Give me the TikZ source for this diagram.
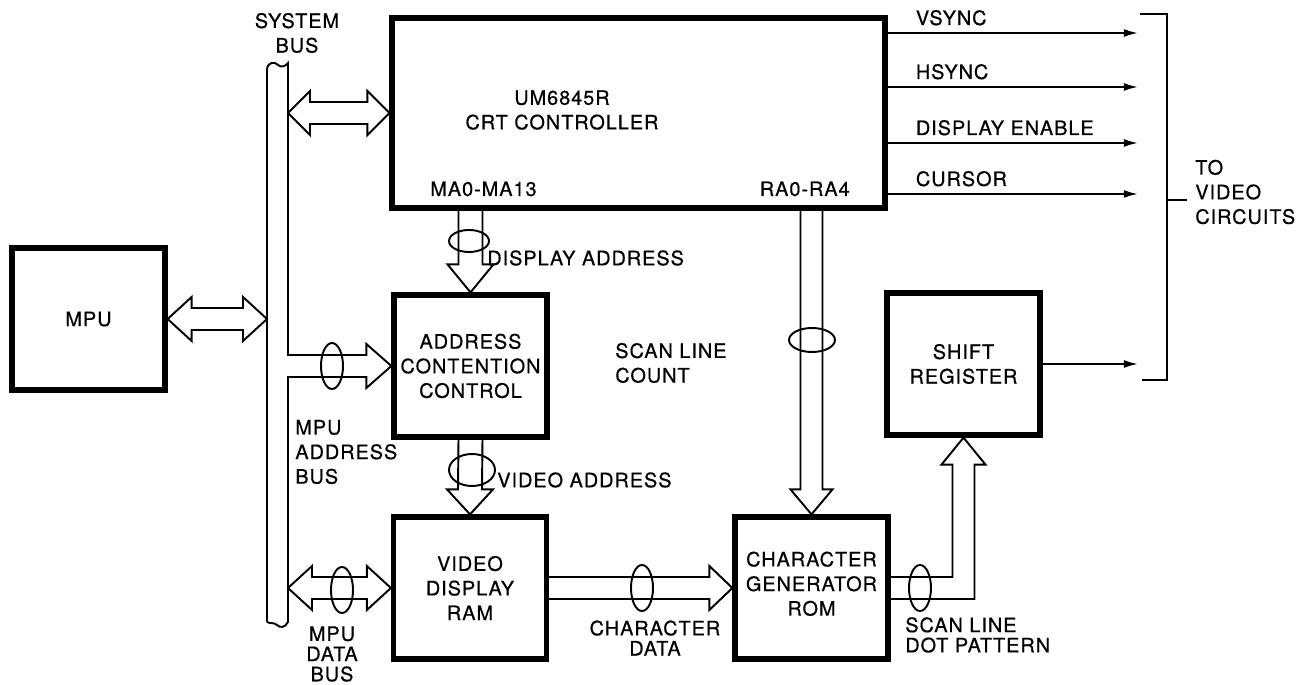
\documentclass[tikz,border=0pt]{standalone}
\usepackage{fontspec}
\setmainfont{TeX Gyre Heros}[LetterSpace=5, FakeBold=0.6]
\usetikzlibrary{arrows.meta, calc}

\tikzset{
  blk/.style={draw, line width=3pt, minimum width=3.06cm, minimum height=2.84cm,
    align=center, inner sep=0pt},
  wire/.style={line width=1.1pt},
  fat/.style={line width=1.1pt, line join=miter},
  sig/.style={line width=1.1pt, -{Latex[length=8pt, width=4.5pt]}},
  lbl/.style={anchor=west, align=left, inner sep=0pt},
  tight/.style={font=\fontsize{11.3}{11.5}\selectfont},
}

\begin{document}
\begin{tikzpicture}[x=0.02cm, y=-0.02cm, font=\fontsize{11.3}{14}\selectfont]

\useasboundingbox (0,0) rectangle (1313,685);

% Blocks
\node[blk] (mpu) at (88.5,319) {MPU};
\node[blk, minimum width=9.86cm, minimum height=3.8cm] (crt) at (638.5,113) {};
\node[blk] (acc) at (470.5,366) {ADDRESS\\CONTENTION\\CONTROL};
\node[blk] (vdr) at (470,588) {VIDEO\\DISPLAY\\RAM};
\node[blk] (rom) at (811.5,588) {CHARACTER\\GENERATOR\\ROM\\[-9pt]};
\node[blk] (sr) at (963.5,364) {SHIFT\\REGISTER};

% CRT controller texts
\node[align=center, inner sep=0pt] (crtname) at (562,110) {UM6845R\\CRT CONTROLLER};
\node[anchor=base west, inner sep=0pt] (ma) at (430,196) {MA0-MA13};
\node[anchor=base east, inner sep=0pt] (ra) at (850,196) {RA0-RA4};

% System bus (with the branch to the address contention control)
\coordinate (busw) at (267,0);
\coordinate (buse) at (288,0);
\draw[fat] (267,622) -- (267,70) .. controls (267,62) and (275,61) .. (278,65)
  .. controls (281,68) and (286,66) .. (288,63)
  -- ($(buse|-acc.west)+(0,-11)$) -- ($(acc.west)+(-25,-11)$) -- ++(0,-11)
  -- (acc.west) -- ++(-25,22) -- ++(0,-11) -- ($(buse|-acc.west)+(0,11)$)
  -- (288,622) .. controls (285,628) and (280,628) .. (277,625)
  .. controls (274,622) and (270,624) .. (267,622);

% Two-way bus arrows
\foreach \a/\b/\h in {{mpu.east}/{busw|-mpu.east}/24, {buse|-crt.west}/{crt.west}/22,
                      {buse|-vdr.west}/{vdr.west}/24} {
  \draw[fat] (\a) -- ++(\h,-22) -- ++(0,11) -- ($(\b)+(-\h,-11)$) -- ++(0,-11)
    -- (\b) -- ++(-\h,22) -- ++(0,-11) -- ($(\a)+(\h,11)$) -- ++(0,11) -- cycle;
}

% Display address
\draw[fat] ($(acc.north|-crt.south)+(-12,0)$) -- ($(acc.north)+(-12,-28)$) -- ++(-11,0)
  -- (acc.north) -- ++(23,-28) -- ++(-11,0) -- ($(acc.north|-crt.south)+(12,0)$);
% Video address
\draw[fat] ($(acc.south)+(-12,0)$) -- ($(vdr.north)+(-12,-25)$) -- ++(-11,0)
  -- (vdr.north) -- ++(23,-25) -- ++(-11,0) -- ($(acc.south)+(12,0)$);
% Scan line count
\draw[fat] ($(rom.north|-crt.south)+(-11,0)$) -- ($(rom.north)+(-11,-25)$) -- ++(-10,0)
  -- (rom.north) -- ++(21,-25) -- ++(-10,0) -- ($(rom.north|-crt.south)+(11,0)$);
% Character data
\draw[fat] ($(vdr.east)+(0,-11)$) -- ($(rom.west)+(-23,-11)$) -- ++(0,-11)
  -- (rom.west) -- ++(-23,22) -- ++(0,-11) -- ($(vdr.east)+(0,11)$);
% Scan line dot pattern
\draw[fat] ($(rom.east)+(0,-11)$) -- ($(sr.south|-rom.east)+(-11,-11)$)
  -- ($(sr.south)+(-11,27)$) -- ++(-11,0) -- (sr.south) -- ++(22,27) -- ++(-11,0)
  -- ($(sr.south|-rom.east)+(11,11)$) -- ($(rom.east)+(0,11)$);

% Bus loops
\foreach \p in {(332,366), (342,590), (642,588), (920,588)}
  \draw[wire] \p ellipse (0.22cm and 0.46cm);
\draw[wire] (469,241) ellipse (0.4cm and 0.22cm);
\draw[wire] (472,470) ellipse (0.46cm and 0.32cm);
\draw[wire] (812,340) ellipse (0.46cm and 0.24cm);

% Bus labels
\node[align=center, inner sep=0pt] (sysbus) at (297,33) {SYSTEM\\BUS};
\node[lbl] (mab) at (295,452) {MPU\\ADDRESS\\BUS};
\node[align=center, inner sep=0pt, tight] (mdb) at (332,654) {MPU\\DATA\\BUS};
\node[lbl] (dal) at (487,258) {DISPLAY ADDRESS};
\node[lbl] (val) at (497,480) {VIDEO ADDRESS};
\node[lbl] (slc) at (615,363) {SCAN LINE\\COUNT};
\node[align=center, inner sep=0pt, tight] (cdl) at (655,638) {CHARACTER\\DATA};
\node[lbl, tight] (sdp) at (905,635) {SCAN LINE\\DOT PATTERN};

% Video signals
\foreach \i/\yy/\txt in {1/33/VSYNC, 2/87/HSYNC, 3/143/DISPLAY ENABLE, 4/194/CURSOR} {
  \coordinate (o\i) at (1138,\yy);
  \draw[sig] (crt.east|-o\i) -- (o\i);
  \node[anchor=base west, inner sep=0pt] (s\i) at ($(crt.east|-o\i)+(28,-8)$) {\txt};
}
\draw[sig] (sr.east) -- (sr.east-|o1);

% Bracket to video circuits
\draw[wire] (1140,14) -- (1167,14) -- (1167,380) -- (1142,380);
\coordinate (brk) at (1167,200);
\node[lbl] (tvc) at (1195,192) {TO\\VIDEO\\CIRCUITS};
\draw[wire] (brk) -- ++(20,0);

\end{tikzpicture}
\end{document}
